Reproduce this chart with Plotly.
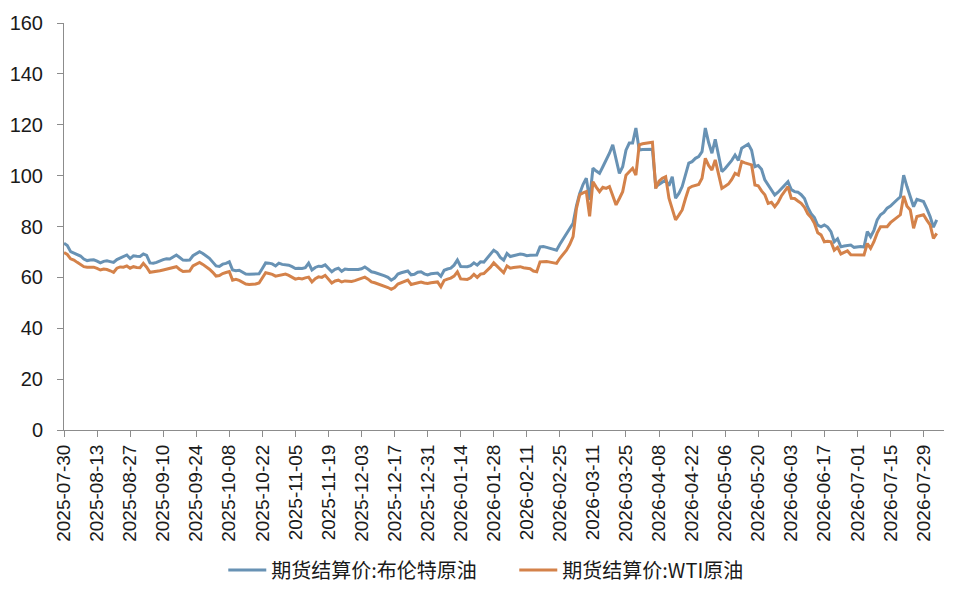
import plotly.graph_objects as go
import pandas as pd

# trading days (Mon-Fri) starting 2025-07-30
dates = [d.strftime("%Y-%m-%d") for d in pd.bdate_range("2025-07-30", periods=265)]

brent = [
    73.4, 72.5, 70.1, 69.6, 69.0, 68.4, 67.2, 66.6, 66.8, 66.9,
    66.4, 65.7, 66.3, 66.5, 66.2, 65.9, 67.0, 67.7, 68.1, 68.8,
    67.4, 68.5, 68.3, 68.2, 69.2, 68.6, 65.7, 65.6, 65.9, 66.5,
    67.0, 67.3, 67.2, 68.0, 68.8, 67.8, 66.8, 66.7, 66.8, 68.5,
    69.4, 70.1, 69.4, 68.3, 67.5, 66.0, 64.5, 64.3, 65.2, 65.5,
    66.1, 62.9, 62.6, 62.8, 62.0, 61.3, 61.2, 61.3, 61.2, 61.4,
    63.5, 65.7, 65.6, 65.3, 64.5, 65.6, 65.1, 65.0, 64.8, 64.2,
    63.5, 63.6, 63.5, 63.8, 65.6, 62.9, 63.9, 64.4, 64.3, 64.9,
    63.6, 62.2, 63.2, 63.6, 62.4, 63.3, 63.1, 63.1, 63.0, 63.1,
    63.4, 64.1, 63.2, 62.2, 61.9, 61.5, 61.2, 60.6, 60.0, 58.9,
    59.7, 61.3, 61.8, 62.2, 62.5, 61.0, 61.2, 62.0, 62.2, 61.4,
    61.0, 61.4, 61.5, 61.7, 60.4, 62.8, 63.3, 63.6, 64.8, 66.8,
    64.3, 64.2, 64.2, 64.6, 65.7, 64.8, 66.1, 66.0, 67.5, 69.2,
    70.7, 69.8, 67.8, 66.8, 69.4, 68.2, 68.5, 68.9, 69.2, 69.0,
    68.5, 68.7, 68.9, 68.8, 72.0, 72.1, 71.8, 71.5, 71.0, 70.7,
    73.0, 75.0, 77.0, 79.0, 81.3, 88.0, 93.0, 96.5, 99.0, 90.5,
    102.9, 101.8, 100.9, 103.5, 106.0, 108.8, 112.1, 106.0, 100.9, 103.5,
    110.0, 112.8, 112.8, 118.7, 110.1, 110.3, 110.4, 110.4, 110.4, 95.7,
    96.5, 97.6, 98.3, 96.0, 99.6, 91.1, 93.0, 95.7, 100.0, 104.9,
    105.5, 106.8, 107.5, 109.4, 118.7, 113.0, 108.8, 114.3, 108.0, 101.6,
    102.8, 104.2, 106.0, 108.1, 106.0, 110.8, 111.5, 112.4, 110.0, 103.5,
    104.0, 102.5, 98.3, 96.3, 94.5, 92.4, 93.5, 95.0, 96.5, 97.6,
    94.5, 93.7, 93.5, 92.5, 91.0, 87.5, 85.0, 83.5, 80.5, 79.9,
    80.6, 79.8, 78.0, 74.0, 75.2, 72.0, 72.3, 72.6, 72.7, 71.8,
    72.0, 72.1, 71.9, 78.0, 76.0, 78.5, 82.6, 84.6, 85.5, 87.2,
    88.0, 89.1, 90.5, 91.7, 100.2, 95.7, 92.0, 87.8, 90.7, 90.2,
    89.8, 87.0, 83.9, 79.7, 82.6,
]

wti = [
    69.8, 69.0, 67.3, 66.8, 65.9, 65.2, 64.2, 64.0, 63.9, 64.0,
    63.5, 62.9, 63.3, 63.1, 62.6, 62.0, 63.6, 64.1, 64.0, 64.5,
    63.6, 64.2, 63.9, 63.8, 65.5, 64.0, 62.0, 62.1, 62.3, 62.6,
    62.9, 63.3, 63.5, 63.9, 64.2, 63.1, 62.3, 62.4, 62.5, 64.5,
    65.2, 65.9, 65.1, 64.3, 63.2, 62.0, 60.5, 60.7, 61.5, 61.9,
    62.3, 58.9, 59.2, 58.8, 58.0, 57.4, 57.2, 57.3, 57.4, 57.8,
    60.0, 61.8, 61.5, 61.2, 60.5, 60.8, 61.0, 61.3, 60.8, 60.2,
    59.3, 59.6, 59.4, 59.8, 60.1, 58.2, 59.5, 60.2, 60.0, 60.8,
    59.1, 57.8, 58.6, 58.9, 58.2, 58.6, 58.5, 58.4, 58.7, 59.2,
    59.8, 60.1, 59.3, 58.2, 57.9, 57.4, 57.2, 56.6, 56.0, 55.3,
    56.0, 57.4, 58.0, 58.5, 58.9, 57.2, 57.6, 58.0, 58.2, 57.8,
    57.6, 57.9, 58.1, 58.2, 56.3, 58.8, 59.3, 59.7, 60.5, 62.2,
    59.4, 59.2, 59.2, 59.8, 61.2, 60.0, 61.3, 61.5, 62.6, 64.0,
    65.7, 64.5, 63.0, 61.8, 64.5, 63.6, 63.9, 64.1, 64.2, 63.8,
    63.5, 63.4, 62.5, 62.2, 66.1, 66.3, 66.2, 66.0, 65.8, 65.5,
    67.5, 69.0, 70.7, 73.0, 76.0, 87.0, 92.5, 93.2, 93.7, 84.0,
    97.6, 95.5, 93.7, 95.4, 95.0, 95.7, 92.0, 88.5, 91.0, 93.7,
    100.2, 101.5, 102.9, 100.2, 112.1, 112.5, 112.8, 113.0, 113.1, 95.0,
    97.8, 99.0, 99.6, 91.1, 87.0, 82.6, 84.5, 86.5, 91.0, 95.0,
    95.8, 96.3, 96.5, 99.0, 106.8, 104.0, 102.2, 106.2, 100.0, 95.0,
    95.8, 96.7, 98.5, 100.9, 100.2, 105.5, 105.0, 104.6, 104.2, 96.3,
    96.0, 94.0, 92.5, 89.1, 89.5, 87.8, 89.5, 92.0, 94.0, 95.7,
    91.1, 91.0, 90.0, 89.1, 87.5, 85.0, 83.5, 81.3, 77.5, 76.7,
    74.0, 74.2, 74.0, 70.7, 71.8, 69.2, 69.8, 70.4, 68.9, 68.9,
    68.9, 68.9, 68.8, 73.3, 71.4, 74.0, 77.5, 79.9, 79.9, 79.9,
    81.5, 82.6, 83.5, 84.6, 92.0, 88.0, 86.5, 79.3, 83.9, 84.2,
    84.6, 82.5, 80.6, 75.3, 77.3,
]

tick_labels = dates[::10]

fig = go.Figure()
fig.add_trace(go.Scatter(
    x=dates, y=brent, mode="lines",
    line=dict(color="#6892B4", width=3),
    name="期货结算价:布伦特原油",
))
fig.add_trace(go.Scatter(
    x=dates, y=wti, mode="lines",
    line=dict(color="#D4824A", width=3),
    name="期货结算价:WTI原油",
))

# page body has an 8px margin, so the figure is a bit smaller than the window
fig.update_layout(
    width=953, height=591,
    paper_bgcolor="white", plot_bgcolor="white",
    margin=dict(l=56, r=17, t=15, b=169),
    font=dict(family="Liberation Sans, Noto Sans CJK SC", color="#1a1a1a"),
    showlegend=True,
    legend=dict(
        orientation="h", x=0.181, xanchor="left",
        yref="container", y=0.049, yanchor="middle",
        font=dict(size=20, family="Noto Sans CJK SC", color="#1a1a1a"),
        itemwidth=38, entrywidth=238,
    ),
    xaxis=dict(
        type="category", range=[0, 266.2],
        tickmode="array", tickvals=tick_labels, ticktext=tick_labels,
        tickangle=-90, tickfont=dict(size=19),
        showline=True, linecolor="#8c8c8c", linewidth=1,
        ticks="outside", ticklen=6, tickcolor="#8c8c8c",
        showgrid=False, zeroline=False, automargin=False,
    ),
    yaxis=dict(
        range=[0, 160], dtick=20, tickfont=dict(size=20),
        showline=True, linecolor="#8c8c8c", linewidth=1,
        ticks="outside", ticklen=6, tickcolor="#8c8c8c",
        ticklabelstandoff=10,
        showgrid=False, zeroline=False, automargin=False,
    ),
)

fig.write_html("out.html")
